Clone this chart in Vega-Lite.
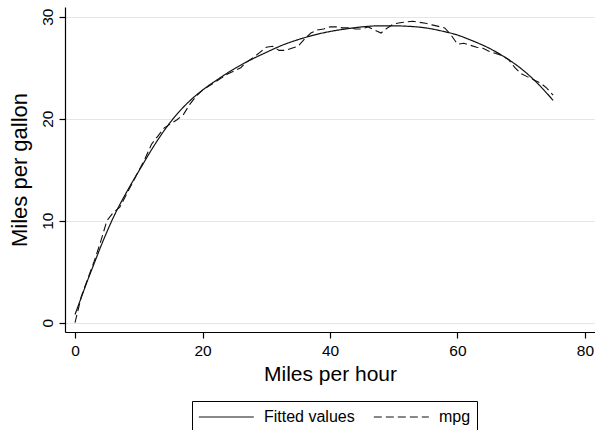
{
  "$schema": "https://vega.github.io/schema/vega-lite/v6.json",
  "width": 530,
  "height": 325,
  "autosize": {"type": "none"},
  "padding": {"left": 65, "top": 7, "right": 0, "bottom": 98},
  "background": "white",
  "config": {
    "view": {"stroke": null},
    "font": "Liberation Sans",
    "axis": {
      "domainColor": "#000",
      "tickColor": "#000",
      "labelColor": "#000",
      "titleColor": "#000",
      "labelFontSize": 15.5,
      "titleFontSize": 21,
      "titleFontWeight": "normal",
      "tickSize": 6,
      "domainWidth": 1.2,
      "tickWidth": 1.2,
      "labelFont": "Liberation Sans",
      "titleFont": "Liberation Sans"
    },
    "legend": {
      "orient": "none",
      "legendX": 127,
      "legendY": 394,
      "direction": "horizontal",
      "strokeColor": "#000",
      "fillColor": "#fff",
      "padding": 6,
      "symbolType": "M-1,0H5",
      "symbolSize": 336,
      "symbolStrokeWidth": 1.1,
      "symbolStrokeColor": "#111",
      "labelFontSize": 16,
      "labelFont": "Liberation Sans",
      "labelColor": "#000",
      "labelOffset": 46,
      "columnPadding": 16,
      "title": null
    }
  },
  "data": {
    "values": [
      {"mph": 0, "value": 0.8, "series": "Fitted values"},
      {"mph": 1, "value": 2.5, "series": "Fitted values"},
      {"mph": 2, "value": 4.2, "series": "Fitted values"},
      {"mph": 3, "value": 5.8, "series": "Fitted values"},
      {"mph": 4, "value": 7.4, "series": "Fitted values"},
      {"mph": 5, "value": 8.9, "series": "Fitted values"},
      {"mph": 6, "value": 10.3, "series": "Fitted values"},
      {"mph": 7, "value": 11.55, "series": "Fitted values"},
      {"mph": 8, "value": 12.7, "series": "Fitted values"},
      {"mph": 9, "value": 13.8, "series": "Fitted values"},
      {"mph": 10, "value": 14.85, "series": "Fitted values"},
      {"mph": 12, "value": 16.95, "series": "Fitted values"},
      {"mph": 14, "value": 18.85, "series": "Fitted values"},
      {"mph": 16, "value": 20.45, "series": "Fitted values"},
      {"mph": 18, "value": 21.75, "series": "Fitted values"},
      {"mph": 20, "value": 22.8, "series": "Fitted values"},
      {"mph": 22.5, "value": 23.9, "series": "Fitted values"},
      {"mph": 25, "value": 24.9, "series": "Fitted values"},
      {"mph": 27.5, "value": 25.75, "series": "Fitted values"},
      {"mph": 30, "value": 26.5, "series": "Fitted values"},
      {"mph": 32.5, "value": 27.2, "series": "Fitted values"},
      {"mph": 35, "value": 27.75, "series": "Fitted values"},
      {"mph": 37.5, "value": 28.2, "series": "Fitted values"},
      {"mph": 40, "value": 28.55, "series": "Fitted values"},
      {"mph": 42.5, "value": 28.8, "series": "Fitted values"},
      {"mph": 45, "value": 29.0, "series": "Fitted values"},
      {"mph": 47.5, "value": 29.1, "series": "Fitted values"},
      {"mph": 50, "value": 29.1, "series": "Fitted values"},
      {"mph": 52.5, "value": 29.05, "series": "Fitted values"},
      {"mph": 55, "value": 28.9, "series": "Fitted values"},
      {"mph": 57.5, "value": 28.6, "series": "Fitted values"},
      {"mph": 60, "value": 28.2, "series": "Fitted values"},
      {"mph": 62.5, "value": 27.6, "series": "Fitted values"},
      {"mph": 65, "value": 26.9, "series": "Fitted values"},
      {"mph": 67.5, "value": 26.0, "series": "Fitted values"},
      {"mph": 70, "value": 24.9, "series": "Fitted values"},
      {"mph": 72.5, "value": 23.5, "series": "Fitted values"},
      {"mph": 75, "value": 21.8, "series": "Fitted values"},
      {"mph": 0, "value": 0.0, "series": "mpg"},
      {"mph": 1, "value": 2.6, "series": "mpg"},
      {"mph": 2, "value": 4.3, "series": "mpg"},
      {"mph": 3, "value": 6.0, "series": "mpg"},
      {"mph": 4, "value": 7.9, "series": "mpg"},
      {"mph": 5, "value": 10.0, "series": "mpg"},
      {"mph": 6, "value": 10.8, "series": "mpg"},
      {"mph": 7, "value": 11.3, "series": "mpg"},
      {"mph": 8, "value": 12.5, "series": "mpg"},
      {"mph": 9, "value": 13.7, "series": "mpg"},
      {"mph": 10, "value": 14.9, "series": "mpg"},
      {"mph": 11, "value": 16.1, "series": "mpg"},
      {"mph": 12, "value": 17.5, "series": "mpg"},
      {"mph": 13, "value": 18.3, "series": "mpg"},
      {"mph": 14, "value": 19.1, "series": "mpg"},
      {"mph": 15, "value": 19.5, "series": "mpg"},
      {"mph": 16, "value": 19.9, "series": "mpg"},
      {"mph": 17, "value": 20.4, "series": "mpg"},
      {"mph": 18, "value": 21.4, "series": "mpg"},
      {"mph": 19, "value": 22.2, "series": "mpg"},
      {"mph": 20, "value": 22.8, "series": "mpg"},
      {"mph": 21, "value": 23.2, "series": "mpg"},
      {"mph": 22, "value": 23.6, "series": "mpg"},
      {"mph": 23, "value": 24.0, "series": "mpg"},
      {"mph": 24, "value": 24.4, "series": "mpg"},
      {"mph": 25, "value": 24.7, "series": "mpg"},
      {"mph": 26, "value": 25.0, "series": "mpg"},
      {"mph": 27, "value": 25.6, "series": "mpg"},
      {"mph": 28, "value": 26.0, "series": "mpg"},
      {"mph": 29, "value": 26.5, "series": "mpg"},
      {"mph": 30, "value": 27.0, "series": "mpg"},
      {"mph": 31, "value": 27.1, "series": "mpg"},
      {"mph": 32, "value": 26.7, "series": "mpg"},
      {"mph": 33, "value": 26.7, "series": "mpg"},
      {"mph": 34, "value": 26.9, "series": "mpg"},
      {"mph": 35, "value": 27.1, "series": "mpg"},
      {"mph": 36, "value": 27.8, "series": "mpg"},
      {"mph": 37, "value": 28.4, "series": "mpg"},
      {"mph": 38, "value": 28.7, "series": "mpg"},
      {"mph": 39, "value": 28.8, "series": "mpg"},
      {"mph": 40, "value": 29.0, "series": "mpg"},
      {"mph": 41, "value": 29.0, "series": "mpg"},
      {"mph": 42, "value": 28.9, "series": "mpg"},
      {"mph": 43, "value": 28.9, "series": "mpg"},
      {"mph": 44, "value": 28.8, "series": "mpg"},
      {"mph": 45, "value": 28.8, "series": "mpg"},
      {"mph": 46, "value": 29.0, "series": "mpg"},
      {"mph": 47, "value": 28.7, "series": "mpg"},
      {"mph": 48, "value": 28.4, "series": "mpg"},
      {"mph": 49, "value": 28.9, "series": "mpg"},
      {"mph": 50, "value": 29.3, "series": "mpg"},
      {"mph": 51, "value": 29.4, "series": "mpg"},
      {"mph": 52, "value": 29.5, "series": "mpg"},
      {"mph": 53, "value": 29.55, "series": "mpg"},
      {"mph": 54, "value": 29.45, "series": "mpg"},
      {"mph": 55, "value": 29.35, "series": "mpg"},
      {"mph": 56, "value": 29.2, "series": "mpg"},
      {"mph": 57, "value": 29.05, "series": "mpg"},
      {"mph": 58, "value": 28.9, "series": "mpg"},
      {"mph": 59, "value": 28.2, "series": "mpg"},
      {"mph": 60, "value": 27.3, "series": "mpg"},
      {"mph": 61, "value": 27.4, "series": "mpg"},
      {"mph": 62, "value": 27.2, "series": "mpg"},
      {"mph": 63, "value": 27.0, "series": "mpg"},
      {"mph": 64, "value": 26.9, "series": "mpg"},
      {"mph": 65, "value": 26.6, "series": "mpg"},
      {"mph": 66, "value": 26.4, "series": "mpg"},
      {"mph": 67, "value": 26.2, "series": "mpg"},
      {"mph": 68, "value": 25.8, "series": "mpg"},
      {"mph": 69, "value": 25.0, "series": "mpg"},
      {"mph": 70, "value": 24.4, "series": "mpg"},
      {"mph": 71, "value": 24.1, "series": "mpg"},
      {"mph": 72, "value": 23.8, "series": "mpg"},
      {"mph": 73, "value": 23.5, "series": "mpg"},
      {"mph": 74, "value": 23.0, "series": "mpg"},
      {"mph": 75, "value": 22.3, "series": "mpg"}
    ]
  },
  "encoding": {
    "x": {
      "field": "mph",
      "type": "quantitative",
      "scale": {"domain": [-1.57, 81.57], "nice": false, "zero": false},
      "axis": {"values": [0, 20, 40, 60, 80], "title": "Miles per hour", "grid": false, "labelPadding": 5, "titlePadding": 5}
    },
    "y": {
      "field": "value",
      "type": "quantitative",
      "scale": {"domain": [-0.91, 30.95], "nice": false, "zero": false},
      "axis": {
        "values": [0, 10, 20, 30],
        "title": "Miles per gallon",
        "titleFontSize": 22,
        "grid": true,
        "gridColor": "#e6e6e6",
        "gridWidth": 1,
        "labelAngle": -90,
        "labelAlign": "center",
        "labelBaseline": "bottom",
        "labelPadding": 4,
        "titlePadding": 9
      }
    },
    "strokeDash": {
      "field": "series",
      "type": "nominal",
      "scale": {"domain": ["Fitted values", "mpg"], "range": [[1, 0], [8, 4]]}
    }
  },
  "layer": [
    {
      "transform": [{"filter": "datum.series === 'Fitted values'"}],
      "mark": {"type": "line", "color": "#111", "strokeWidth": 1.2, "interpolate": "monotone"}
    },
    {
      "transform": [{"filter": "datum.series === 'mpg'"}],
      "mark": {"type": "line", "color": "#111", "strokeWidth": 1.1}
    }
  ]
}
